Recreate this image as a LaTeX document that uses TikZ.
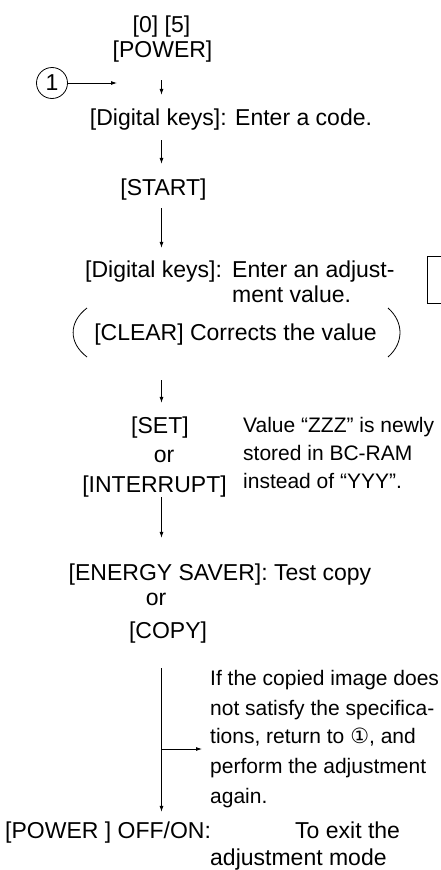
\documentclass[tikz,border=0pt]{standalone}
\usepackage{fontspec}
\setmainfont{Liberation Sans}
\newfontfamily\dejavu{DejaVu Sans}
\usetikzlibrary{arrows.meta,calc}
\begin{document}
\begin{tikzpicture}[x=1pt,y=-1pt,
  txt/.style={font=\fontsize{23}{27}\selectfont, inner sep=0pt, text height=17pt, text depth=5pt},
  note/.style={font=\fontsize{21}{25}\selectfont, inner sep=0pt, anchor=base west},
  arr/.style={draw, line width=0.8pt, -{Latex[length=6pt,width=4pt]}},
  ln/.style={line width=0.8pt}]
\useasboundingbox (0,0) rectangle (441,870);
\coordinate (ax) at (161.5,0);
% texts
\node[txt,anchor=base] (keys05) at (161.5,32) {[0] [5]};
\node[txt,anchor=base] (power) at (162.5,57) {[POWER]};
\node[txt,anchor=base] (dk1) at (231,125) {[Digital keys]: Enter a code.};
\node[txt,anchor=base] (start) at (163.5,195) {[START]};
\node[txt,anchor=base west] (dk2) at (85,277) {[Digital keys]:};
\node[txt,anchor=base west] (dk2b) at (232,277) {Enter an adjust-};
\node[txt,anchor=base west] (dk2c) at (232,302) {ment value.};
\node[txt,anchor=base] (clear) at (235.5,340) {[CLEAR] Corrects the value};
\node[txt,anchor=base] (set) at (160,433) {[SET]};
\node[txt,anchor=base] (or1) at (164,462) {or};
\node[txt,anchor=base] (intr) at (154.5,492) {[INTERRUPT]};
\node[note] (v1) at (243,432) {Value “ZZZ” is newly};
\node[note] (v2) at (243,460) {stored in BC-RAM};
\node[note] (v3) at (243,488) {instead of “YYY”.};
\node[txt,anchor=base] (energy) at (220,580) {[ENERGY SAVER]: Test copy};
\node[txt,anchor=base] (or2) at (156,605) {or};
\node[txt,anchor=base] (copy) at (168,638) {[COPY]};
\node[note] (n1) at (210,685) {If the copied image does};
\node[note] (n2) at (210,715) {not satisfy the specifica-};
\node[note] (n3) at (210,743) {tions, return to {\dejavu ①}, and};
\node[note] (n4) at (210,773) {perform the adjustment};
\node[note] (n5) at (210,803) {again.};
\node[txt,anchor=base west] (off) at (5,838) {[POWER ] OFF/ON:};
\node[txt,anchor=base west] (exit1) at (295,838) {To exit the};
\node[txt,anchor=base west] (exit2) at (210,865) {adjustment mode};
% circled 1
\node[circle, draw, line width=0.8pt, minimum size=31pt, inner sep=0pt,
      font=\fontsize{23}{27}\selectfont] (c1) at (52,83) {1};
\coordinate (ret) at (117,83);
\draw[arr] (c1) -- (ret);
% arrows
\draw[arr, shorten <=18pt, shorten >=13pt] (power.south -| ax) -- (dk1.north -| ax);
\draw[arr, shorten <=10pt, shorten >=14pt] (dk1.south -| ax) -- (start.north -| ax);
\draw[arr, shorten <=8pt, shorten >=12pt] (start.south -| ax) -- (dk2.north -| ax);
\draw[arr, shorten <=35pt, shorten >=13pt] (clear.south -| ax) -- (set.north -| ax);
\draw[arr, shorten >=25pt] (intr.south -| ax) -- (energy.north -| ax);
\draw[arr, shorten <=25pt, shorten >=9pt] (copy.south -| ax) -- (off.north -| ax);
\coordinate (br) at (161.5,749);
\draw[arr, shorten >=8pt] (br) -- (br -| n3.west);
% parentheses
\draw[ln] (87,308) .. controls (68.5,322) and (68.5,343) .. (87,357);
\draw[ln] (388,308) .. controls (404,322) and (404,343) .. (388,357);
% partial box at right edge
\draw[ln] (442,256) -- (427,256) -- (427,303) -- (442,303);
\end{tikzpicture}
\end{document}
